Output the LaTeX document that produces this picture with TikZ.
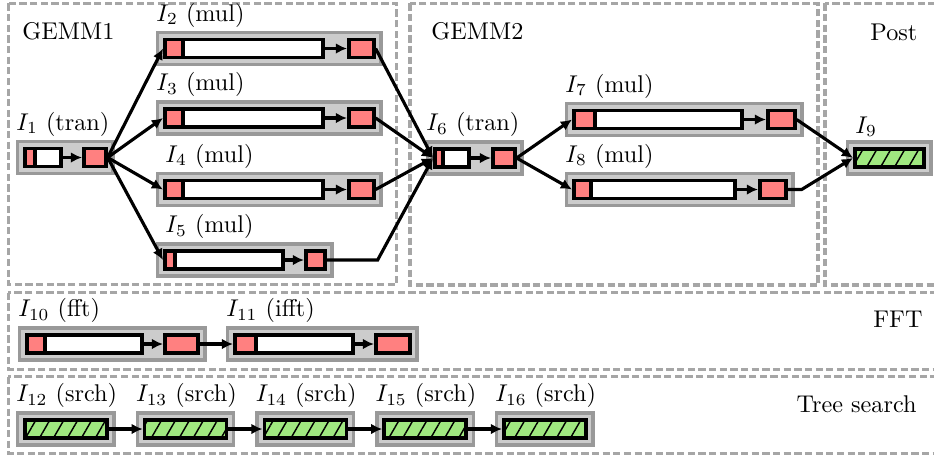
\documentclass[tikz,border=0pt]{standalone}
\usepackage{amsmath}
\usetikzlibrary{arrows.meta}
\usetikzlibrary{fit}
\usetikzlibrary{backgrounds}
\usetikzlibrary{patterns.meta}
\definecolor{srchgreen}{RGB}{160,232,128}
\newdimen\pxu
\pxu=0.4132pt

\begin{document}
\begin{tikzpicture}[x=\pxu,y=-\pxu,>={Latex[length=4.6pt,width=4.4pt]},
    region/.style={draw=gray!70,line width=1.3pt,dash pattern=on 3pt off 1.4pt},
    part/.style={draw=black,line width=1.5pt,inner sep=0pt,minimum height=18\pxu,anchor=west},
    whitepart/.style={part,fill=white},
    redpart/.style={part,fill=red!50},
    srchpart/.style={part,fill=srchgreen,postaction={pattern={Lines[angle=60,distance=5pt,line width=0.6pt]},pattern color=black}},
    instr/.style={draw=gray!80,fill=gray!40,line width=1.4pt,inner sep=2.2pt},
    lbl/.style={anchor=south west,inner xsep=0pt,inner ysep=1.2pt},
    conn/.style={->,line width=1.3pt}]
    \useasboundingbox (0,0) rectangle (934,458);
    \begin{scope}[on background layer]
        \clip (0,0) rectangle (934,458);
        \draw[region] (8.3,3.3) rectangle (396.7,284.3);
        \draw[region] (410,3.3) rectangle (818,285);
        \draw[region] (825,3.3) rectangle (950,285);
        \draw[region] (8.3,292.7) rectangle (950,369.3);
        \draw[region] (8.3,376.7) rectangle (950,453.3);
    \end{scope}
    \node[anchor=west,inner sep=0pt] (gemm1) at (22,31) {GEMM1};
    \node[anchor=west,inner sep=0pt] (gemm2) at (431,31) {GEMM2};
    \node[anchor=west,inner sep=0pt] (post) at (870,32) {Post};
    \node[anchor=east,inner sep=0pt] (fft) at (923,319.5) {FFT};
    \node[anchor=east,inner sep=0pt] (tree) at (917,404.5) {Tree search};

    % GEMM1
    \node[whitepart,minimum width=36\pxu] (w1) at (23,157.5) {};
    \node[redpart,minimum width=10\pxu] (r1) at (w1.west) {};
    \node[redpart,minimum width=22\pxu] (e1) at (82,157.5) {};
    \begin{scope}[on background layer]
        \node[instr,fit=(w1)(e1)] (i1) {};
    \end{scope}
    \node[lbl] (l1) at (i1.north west) {$I_1$ (tran)};
    \foreach \n/\y/\s in {2/48.5/0,3/118/0,4/189.5/9} {
        \node[whitepart,minimum width=158\pxu] (w\n) at (163,\y) {};
        \node[redpart,minimum width=18\pxu] (r\n) at (w\n.west) {};
        \node[redpart,minimum width=25\pxu] (e\n) at (347,\y) {};
        \begin{scope}[on background layer]
            \node[instr,fit=(w\n)(e\n)] (i\n) {};
        \end{scope}
        \node[lbl] (l\n) at ([xshift=\s\pxu]i\n.north west) {$I_\n$ (mul)};
    }
    \node[whitepart,minimum width=118\pxu] (w5) at (163,260) {};
    \node[redpart,minimum width=10\pxu] (r5) at (w5.west) {};
    \node[redpart,minimum width=19\pxu] (e5) at (304,260) {};
    \begin{scope}[on background layer]
        \node[instr,fit=(w5)(e5)] (i5) {};
    \end{scope}
    \node[lbl] (l5) at ([xshift=9\pxu]i5.north west) {$I_5$ (mul)};

    % GEMM2
    \node[whitepart,minimum width=34\pxu] (w6) at (433,158) {};
    \node[redpart,minimum width=8\pxu] (r6) at (w6.west) {};
    \node[redpart,minimum width=22\pxu] (e6) at (491,158) {};
    \node[whitepart,minimum width=168\pxu] (w7) at (572,119.5) {};
    \node[redpart,minimum width=21\pxu] (r7) at (w7.west) {};
    \node[redpart,minimum width=27\pxu] (e7) at (766,119.5) {};
    \node[whitepart,minimum width=161\pxu] (w8) at (572,189.5) {};
    \node[redpart,minimum width=17\pxu] (r8) at (w8.west) {};
    \node[redpart,minimum width=26\pxu] (e8) at (758,189.5) {};
    \begin{scope}[on background layer]
        \node[instr,fit=(w6)(e6)] (i6) {};
        \node[instr,fit=(w7)(e7)] (i7) {};
        \node[instr,fit=(w8)(e8)] (i8) {};
    \end{scope}
    \node[lbl] (l6) at (i6.north west) {$I_6$ (tran)};
    \node[lbl] (l7) at (i7.north west) {$I_7$ (mul)};
    \node[lbl] (l8) at (i8.north west) {$I_8$ (mul)};

    % Post
    \node[srchpart,minimum width=69\pxu] (s9) at (853,158) {};
    \begin{scope}[on background layer]
        \node[instr,fit=(s9)] (i9) {};
    \end{scope}
    \node[lbl] (l9) at ([xshift=9\pxu]i9.north west) {$I_9$};

    % FFT
    \node[whitepart,minimum width=115\pxu] (w10) at (25,344) {};
    \node[redpart,minimum width=18\pxu] (r10) at (w10.west) {};
    \node[redpart,minimum width=33\pxu] (e10) at (163,344) {};
    \node[whitepart,minimum width=118\pxu] (w11) at (233,344) {};
    \node[redpart,minimum width=21\pxu] (r11) at (w11.west) {};
    \node[redpart,minimum width=34\pxu] (e11) at (374,344) {};
    \begin{scope}[on background layer]
        \node[instr,fit=(w10)(e10)] (i10) {};
        \node[instr,fit=(w11)(e11)] (i11) {};
    \end{scope}
    \node[lbl] (l10) at (i10.north west) {$I_{10}$ (fft)};
    \node[lbl] (l11) at (i11.north west) {$I_{11}$ (ifft)};

    % Tree search
    \foreach \n [count=\k from 0] in {12,...,16} {
        \node[srchpart,minimum width=82\pxu] (s\n) at (23+119.75*\k,429) {};
        \begin{scope}[on background layer]
            \node[instr,fit=(s\n)] (i\n) {};
        \end{scope}
        \node[lbl] (l\n) at (i\n.north west) {$I_{\n}$ (srch)};
    }

    % connectors
    \foreach \n in {1,2,3,4,5,6,7,8,10,11}
        \draw[conn] (w\n.east) -- (e\n.west);
    \foreach \n in {2,...,5}
        \draw[conn] (e1.east) -- (r\n.west);
    \foreach \n in {2,3,4}
        \draw[conn] (e\n.east) -- (r6.west);
    \draw[conn] (e5.east) -- ++(51,0) -- (r6.west);
    \draw[conn] (e6.east) -- (r7.west);
    \draw[conn] (e6.east) -- (r8.west);
    \draw[conn] (e7.east) -- (s9.west);
    \draw[conn] (e8.east) -- ++(14,0) -- (s9.west);
    \draw[conn] (e10.east) -- (r11.west);
    \foreach \a/\b in {12/13,13/14,14/15,15/16}
        \draw[conn] (s\a.east) -- (s\b.west);
\end{tikzpicture}
\end{document}
